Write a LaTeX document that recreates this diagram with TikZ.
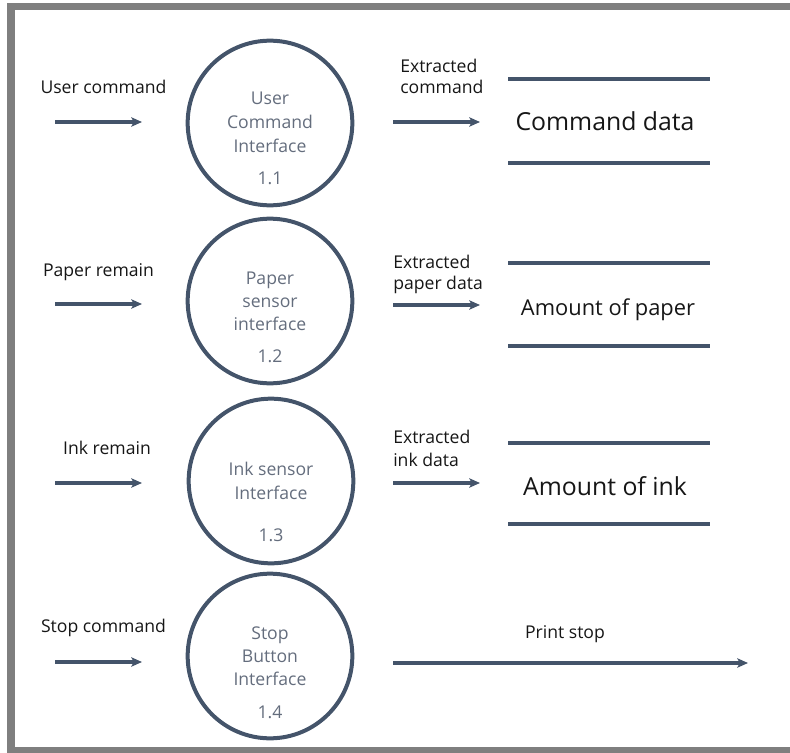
\documentclass[tikz,border=0pt]{standalone}
\usepackage{fontspec}
\setmainfont{Open Sans}
\usetikzlibrary{arrows.meta}
\definecolor{dfd}{HTML}{44546A}
\definecolor{frame}{HTML}{7F7F7F}
\definecolor{ptxt}{RGB}{100,109,125}
\definecolor{lbltxt}{HTML}{161616}
\tikzset{
  proc/.style={circle, draw=dfd, line width=3pt, minimum size=123.5pt, inner sep=0pt},
  ptext/.style={text=ptxt, font=\fontsize{13.2pt}{16pt}\selectfont, inner sep=0pt, anchor=mid, yshift=-2.3pt},
  lbl/.style={text=lbltxt, font=\fontsize{13.2pt}{16pt}\selectfont, inner sep=0pt, anchor=mid, yshift=-2.3pt},
  lblw/.style={lbl, anchor=mid west},
  storetext/.style={text=lbltxt, font=\fontsize{18.6pt}{22pt}\selectfont, inner sep=0pt, anchor=mid, yshift=-3.8pt},
  storeline/.style={draw=dfd, line width=2.3pt},
  flow/.style={draw=dfd, line width=2.4pt, -{Stealth[length=8pt,width=7pt,inset=1.8pt]}},
  border/.style={draw=frame, line width=5.5pt}
}
\begin{document}
\begin{tikzpicture}[x=0.75pt, y=-0.75pt]
\useasboundingbox (0,0) rectangle (790,753);
\clip (0,0) rectangle (790,753);
% frame
\draw[border] (11,760) -- (11,6.5) -- (800,6.5);
\draw[border] (11,751) -- (800,751);

% ---------- row 1 ----------
\node[proc] (p1) at (270,123) {};
\node[ptext] (p1a) at (270,98) {User};
\node[ptext] (p1b) at (270,122) {Command};
\node[ptext] (p1c) at (270,146) {Interface};
\node[ptext] (p1d) at (270,178) {1.1};
\node[lbl] (l1) at (103.5,87) {User command};
\coordinate (i1s) at (55,122);
\coordinate (i1e) at (142,122);
\draw[flow] (i1s) -- (i1e);
\node[lblw] (e1a) at (400,66) {Extracted};
\node[lblw] (e1b) at (400,87) {command};
\coordinate (o1s) at (393,122);
\coordinate (o1e) at (480,122);
\draw[flow] (o1s) -- (o1e);
\coordinate (s1a) at (508,79);
\coordinate (s1b) at (710,79);
\coordinate (s1c) at (508,163);
\coordinate (s1d) at (710,163);
\draw[storeline] (s1a) -- (s1b);
\draw[storeline] (s1c) -- (s1d);
\node[storetext] (s1) at (605,122) {Command data};

% ---------- row 2 ----------
\node[proc] (p2) at (270,301) {};
\node[ptext] (p2a) at (270,278) {Paper};
\node[ptext] (p2b) at (270,301) {sensor};
\node[ptext] (p2c) at (270,324) {interface};
\node[ptext] (p2d) at (270,356) {1.2};
\node[lbl] (l2) at (98.5,270) {Paper remain};
\coordinate (i2s) at (55,304);
\coordinate (i2e) at (142,304);
\draw[flow] (i2s) -- (i2e);
\node[lblw] (e2a) at (393,262) {Extracted};
\node[lblw] (e2b) at (393,283) {paper data};
\coordinate (o2s) at (393,305);
\coordinate (o2e) at (480,305);
\draw[flow] (o2s) -- (o2e);
\coordinate (s2a) at (508,263);
\coordinate (s2b) at (710,263);
\coordinate (s2c) at (508,346);
\coordinate (s2d) at (710,346);
\draw[storeline] (s2a) -- (s2b);
\draw[storeline] (s2c) -- (s2d);
\node[storetext, font=\fontsize{16.4pt}{20pt}\selectfont, yshift=0.5pt] (s2) at (608,308) {Amount of paper};

% ---------- row 3 ----------
\node[proc] (p3) at (271,481) {};
\node[ptext] (p3a) at (271,469) {Ink sensor};
\node[ptext] (p3b) at (271,493) {Interface};
\node[ptext] (p3d) at (271,535) {1.3};
\node[lbl] (l3) at (107,448) {Ink remain};
\coordinate (i3s) at (55,483);
\coordinate (i3e) at (142,483);
\draw[flow] (i3s) -- (i3e);
\node[lblw] (e3a) at (393,437) {Extracted};
\node[lblw] (e3b) at (393,460) {ink data};
\coordinate (o3s) at (393,483);
\coordinate (o3e) at (480,483);
\draw[flow] (o3s) -- (o3e);
\coordinate (s3a) at (508,443);
\coordinate (s3b) at (710,443);
\coordinate (s3c) at (508,524);
\coordinate (s3d) at (710,524);
\draw[storeline] (s3a) -- (s3b);
\draw[storeline] (s3c) -- (s3d);
\node[storetext] (s3) at (605,487) {Amount of ink};

% ---------- row 4 ----------
\node[proc] (p4) at (270,656) {};
\node[ptext] (p4a) at (270,633) {Stop};
\node[ptext] (p4b) at (270,656) {Button};
\node[ptext] (p4c) at (270,679) {Interface};
\node[ptext] (p4d) at (270,712) {1.4};
\node[lbl] (l4) at (103.5,626) {Stop command};
\coordinate (i4s) at (55,662);
\coordinate (i4e) at (142,662);
\draw[flow] (i4s) -- (i4e);
\node[lbl] (ps) at (565,632) {Print stop};
\coordinate (o4s) at (393,663);
\coordinate (o4e) at (748,663);
\draw[flow] (o4s) -- (o4e);
\end{tikzpicture}
\end{document}
